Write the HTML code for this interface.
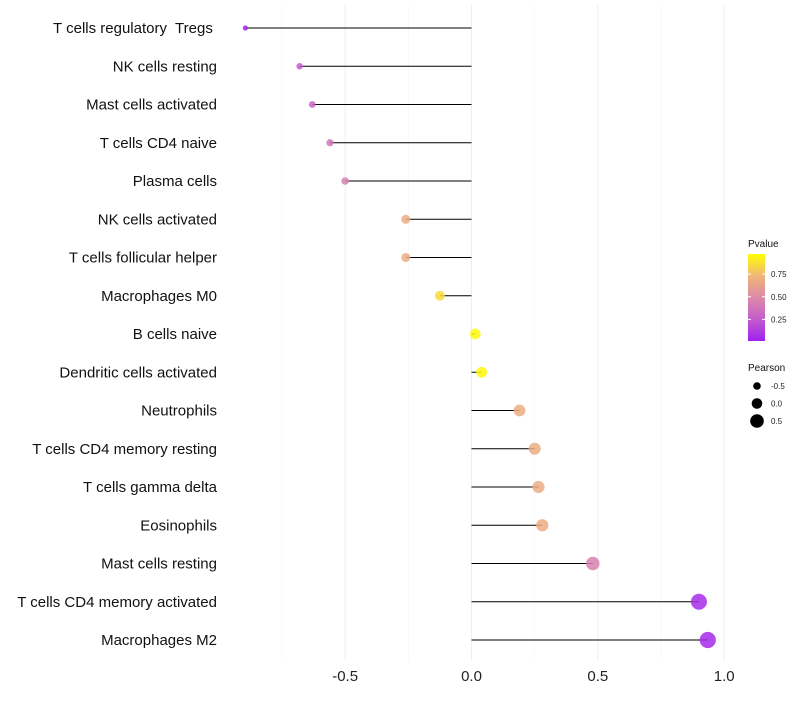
<!DOCTYPE html>
<html><head><meta charset="utf-8"><style>
body{margin:0;background:#fff;font-family:"Liberation Sans",sans-serif}
svg text{font-family:"Liberation Sans",sans-serif;white-space:pre}
</style></head><body>
<svg id="c" width="800" height="700"></svg>
<script>
const categories=["T cells regulatory  Tregs ","NK cells resting","Mast cells activated","T cells CD4 naive","Plasma cells","NK cells activated","T cells follicular helper","Macrophages M0","B cells naive","Dendritic cells activated","Neutrophils","T cells CD4 memory resting","T cells gamma delta","Eosinophils","Mast cells resting","T cells CD4 memory activated","Macrophages M2"];
const pearson=[-0.895,-0.68,-0.63,-0.56,-0.5,-0.26,-0.26,-0.125,0.015,0.04,0.19,0.25,0.265,0.28,0.48,0.9,0.935];
const pvalues=[0.02,0.25,0.3,0.38,0.45,0.7,0.7,0.88,0.98,0.98,0.7,0.7,0.7,0.7,0.45,0.05,0.04];
const xTicks=[-0.5,0,0.5,1.0];
const xTickLabels=["-0.5","0.0","0.5","1.0"];
const legendP=[0.25,0.5,0.75];
const legendPLabels=["0.25","0.50","0.75"];
const legendSize=[-0.5,0,0.5];
const legendSizeLabels=["-0.5","0.0","0.5"];

const svg=document.getElementById('c');const NS="http://www.w3.org/2000/svg";
function mk(t,a,p){const e=document.createElementNS(NS,t);for(const k in a)e.setAttribute(k,a[k]);(p||svg).appendChild(e);return e;}
const x=v=>471.5+v*252.7;
const y=i=>28+i*38.25;
const r=v=>5.3+3*v;
const stops=[[0,[160,32,240]],[0.25,[196,92,204]],[0.5,[220,138,168]],[0.75,[240,182,120]],[1,[255,255,0]]];
function col(p){for(let i=1;i<stops.length;i++){if(p<=stops[i][0]){const a=stops[i-1],b=stops[i],t=(p-a[0])/(b[0]-a[0]);return 'rgb('+a[1].map((c,j)=>Math.round(c+(b[1][j]-c)*t)).join(',')+')';}}return 'rgb(255,255,0)';}
[-0.75,-0.25,0.25,0.75].forEach(v=>{const g=mk('line',{x1:x(v),x2:x(v),y1:5,y2:660,stroke:'#f5f5f5','stroke-width':0.6});

});
xTicks.forEach((v,i)=>{const g=mk('line',{x1:x(v),x2:x(v),y1:5,y2:660,stroke:'#eeeeee','stroke-width':1});


const t=mk('text',{x:x(v),y:681,'text-anchor':'middle','font-size':15,fill:'#222'});t.textContent=xTickLabels[i];

});
categories.forEach((c,i)=>{
const t=mk('text',{x:217,y:y(i)+5,'text-anchor':'end','font-size':15,fill:'#111'});t.textContent=c;


const l=mk('line',{x1:x(0),x2:x(pearson[i]),y1:y(i),y2:y(i),stroke:'#000','stroke-width':1});


const d=mk('circle',{cx:x(pearson[i]),cy:y(i),r:r(pearson[i]),fill:col(pvalues[i]),'fill-opacity':0.85});


});
let t=mk('text',{x:748,y:247,'font-size':10,fill:'#111'});t.textContent='Pvalue';


const defs=mk('defs',{});const gr=mk('linearGradient',{id:'g',x1:0,y1:1,x2:0,y2:0},defs);
stops.forEach(s=>mk('stop',{offset:s[0],'stop-color':'rgb('+s[1].join(',')+')'},gr));
const cb=mk('rect',{x:748,y:254,width:17,height:87,fill:'url(#g)'});


const py=p=>342-p*90.5;
legendP.forEach((p,i)=>{mk('line',{x1:748,x2:751,y1:py(p),y2:py(p),stroke:'#fff'});mk('line',{x1:762,x2:765,y1:py(p),y2:py(p),stroke:'#fff'});
const tt=mk('text',{x:771,y:py(p)+3,'font-size':8,fill:'#222'});tt.textContent=legendPLabels[i];

});
t=mk('text',{x:748,y:371,'font-size':10,fill:'#111'});t.textContent='Pearson';


legendSize.forEach((v,i)=>{const yy=386+i*17.5;const c=mk('circle',{cx:757,cy:yy,r:r(v),fill:'#000'});


const tt=mk('text',{x:771,y:yy+3,'font-size':8,fill:'#222'});tt.textContent=legendSizeLabels[i];

});
</script></body></html>
